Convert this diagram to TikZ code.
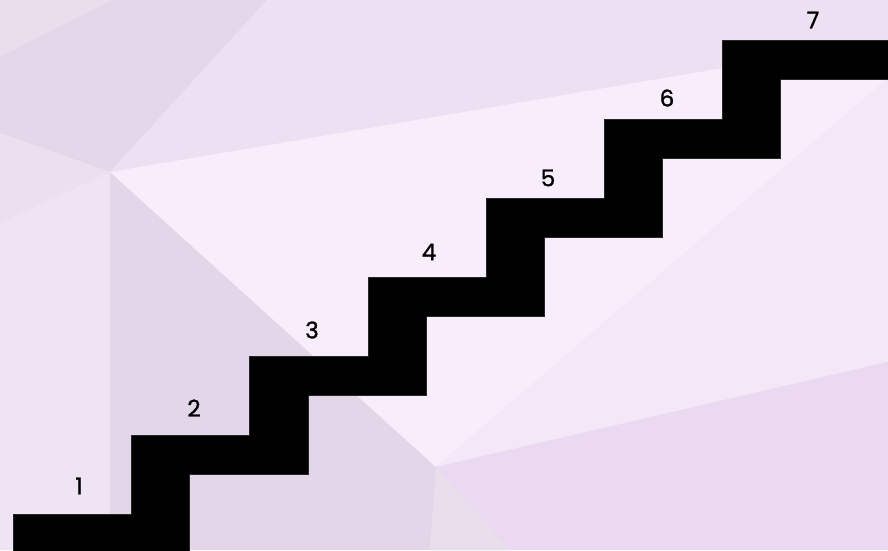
\documentclass[tikz,border=0pt]{standalone}
\usepackage{fontspec}
\setmainfont{Poppins}[FakeBold=1.2]
\definecolor{bgbase}{HTML}{ECDFF1}
\definecolor{ulcol}{HTML}{E3D8E9}
\definecolor{ulcorner}{HTML}{E8DEEC}
\definecolor{topmid}{HTML}{EDE0F2}
\definecolor{leftband}{HTML}{EBE0EF}
\definecolor{leftlow}{HTML}{EFE4F3}
\definecolor{belowA}{HTML}{E2D6E8}
\definecolor{bright}{HTML}{F8EEFB}
\definecolor{rightmid}{HTML}{F3E7F8}
\definecolor{lowright}{HTML}{EAD9F0}
\definecolor{smalltri}{HTML}{E8DEEC}
\tikzset{
  lbl/.style={font=\fontsize{23}{23}\selectfont, text=black, inner sep=0pt},
  stair/.style={fill=black, draw=black!85, line width=0.4pt}
}
\begin{document}
\begin{tikzpicture}[x=1pt,y=-1pt]
\useasboundingbox (0,0) rectangle (888,550);
% background low-poly
\fill[bgbase] (0,0) rectangle (888,550);
\fill[ulcol] (0,0) -- (267,0) -- (110,172) -- (0,133) -- cycle;
\fill[ulcorner] (0,0) -- (112,0) -- (0,57) -- cycle;
\fill[topmid] (267,0) -- (888,0) -- (888,40) -- (110,172) -- cycle;
\fill[leftband] (0,133) -- (110,172) -- (0,223) -- cycle;
\fill[leftlow] (0,223) -- (110,172) -- (110,550) -- (0,550) -- cycle;
\fill[belowA] (110,172) -- (436,467) -- (430,550) -- (110,550) -- cycle;
\fill[bright] (110,172) -- (888,40) -- (888,78) -- (436,467) -- cycle;
\fill[rightmid] (436,467) -- (888,78) -- (888,362) -- cycle;
\fill[lowright] (436,467) -- (888,362) -- (888,550) -- (430,550) -- cycle;
\fill[smalltri] (436,467) -- (510,550) -- (430,550) -- cycle;
% staircase
\filldraw[stair] (13,551) -- (13,514) -- (131,514) -- (131,435) -- (249,435)
  -- (249,356) -- (368,356) -- (368,277) -- (486,277) -- (486,198)
  -- (604,198) -- (604,119) -- (722,119) -- (722,40) -- (889,40)
  -- (889,79) -- (780,79) -- (780,158) -- (662,158) -- (662,237)
  -- (544,237) -- (544,316) -- (426,316) -- (426,395) -- (308,395)
  -- (308,474) -- (189,474) -- (189,551) -- cycle;
% labels
\node[lbl] (n1) at (79,486) {1};
\node[lbl] (n2) at (194,408) {2};
\node[lbl] (n3) at (312,330) {3};
\node[lbl] (n4) at (429,252) {4};
\node[lbl] (n5) at (548,178) {5};
\node[lbl] (n6) at (667,98) {6};
\node[lbl] (n7) at (813,20) {7};
\end{tikzpicture}
\end{document}
